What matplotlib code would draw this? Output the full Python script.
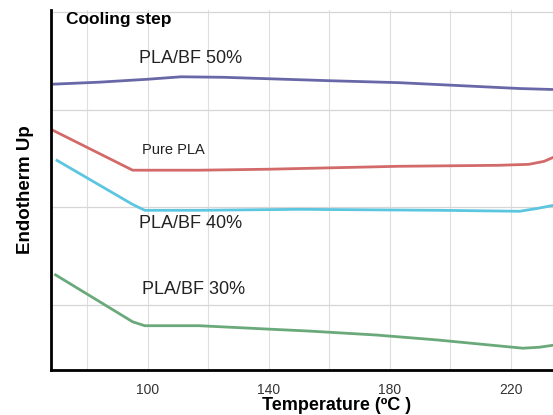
import matplotlib.pyplot as plt

# readings (temperature in ºC, signal in grid units)
t_50 = [69, 84, 100, 111, 125, 140, 160, 183, 203, 223, 234]
y_50 = [3.26, 3.28, 3.31, 3.335, 3.33, 3.315, 3.295, 3.275, 3.245, 3.215, 3.205]

t_pla = [68.5, 95, 117, 140, 183, 216, 226, 231, 234]
y_pla = [2.79, 2.38, 2.38, 2.39, 2.42, 2.43, 2.44, 2.47, 2.51]

t_40 = [70, 95, 99, 117, 150, 196, 223, 229, 234]
y_40 = [2.48, 2.03, 1.97, 1.97, 1.98, 1.97, 1.96, 1.99, 2.02]

t_30 = [69.5, 95, 99, 117, 140, 153.5, 175.5, 195.5, 224, 229.5, 234]
y_30 = [1.31, 0.83, 0.79, 0.79, 0.755, 0.735, 0.695, 0.645, 0.56, 0.57, 0.59]

xticks = [100, 140, 180, 220]
xgrid = [80, 100, 120, 140, 160, 180, 200, 220]
ygrid = [1, 2, 3, 4]

plt.rcParams['font.family'] = ['Liberation Sans', 'DejaVu Sans']

fig = plt.figure(figsize=(5.53, 4.15), dpi=100)
ax = fig.add_axes([0.0922, 0.1084, 0.9078, 0.868])

for g in xgrid:
    ax.axvline(g, color='#dedede', lw=0.8, zorder=0)
for g in ygrid:
    ax.axhline(g, color='#d6d6d6', lw=0.9, zorder=0)

ax.plot(t_50, y_50, color='#6868a8', lw=2.0)
ax.plot(t_pla, y_pla, color='#d36a6a', lw=2.0)
ax.plot(t_40, y_40, color='#5cc6e0', lw=2.0)
ax.plot(t_30, y_30, color='#6aa97a', lw=2.0)

ax.set_xlim(68, 234)
ax.set_ylim(0.337, 4.02)

ax.set_xticks(xticks)
ax.set_xticklabels([str(v) for v in xticks], color='#333333', fontsize=10)
ax.tick_params(axis='x', length=0, pad=9)
ax.set_yticks([])

for s in ['top', 'right']:
    ax.spines[s].set_visible(False)
ax.spines['left'].set_linewidth(2)
ax.spines['bottom'].set_linewidth(2)

ax.text(73, 3.92, 'Cooling step', fontsize=12.5, fontweight='bold', va='center')
ax.text(97, 3.52, 'PLA/BF 50%', fontsize=13, color='#222222', va='center')
ax.text(98, 2.59, 'Pure PLA', fontsize=10.5, color='#222222', va='center')
ax.text(97, 1.84, 'PLA/BF 40%', fontsize=13, color='#222222', va='center')
ax.text(98, 1.16, 'PLA/BF 30%', fontsize=13, color='#222222', va='center')

ax.set_xlabel('Temperature (ºC )', fontsize=13, fontweight='bold', labelpad=0)
ax.xaxis.set_label_coords(0.568, -0.075)
ax.set_ylabel('Endotherm Up', fontsize=13.5, fontweight='bold', labelpad=12)

fig.savefig('out.png', dpi=100)
